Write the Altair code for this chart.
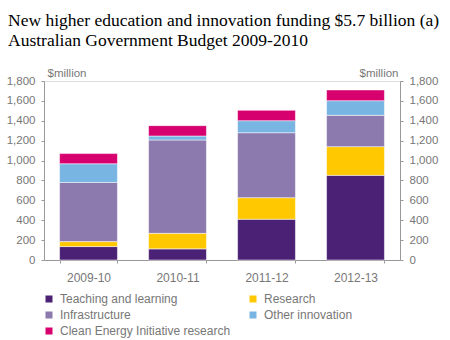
import altair as alt
import pandas as pd

years = ["2009-10", "2010-11", "2011-12", "2012-13"]
series = ["Teaching and learning", "Research", "Infrastructure",
          "Other innovation", "Clean Energy Initiative research"]
teaching = [135, 112, 410, 851]
research = [50, 156, 217, 289]
infrastructure = [595, 939, 653, 315]
other = [188, 40, 121, 147]
clean = [102, 104, 104, 108]
colors = ["#4B2175", "#FFC800", "#8C79AE", "#78B5E2", "#D6006F"]
y_ticks = [0, 200, 400, 600, 800, 1000, 1200, 1400, 1600, 1800]

rows = []
for i, s in enumerate(series):
    vals = [teaching, research, infrastructure, other, clean][i]
    for y, v in zip(years, vals):
        rows.append({"year": y, "series": s, "value": v, "idx": i})
df = pd.DataFrame(rows)

# legend fills column by column: order domain so rows read as in the reference
legend_order = [0, 2, 4, 1, 3]
domain = [series[i] for i in legend_order]
rng = [colors[i] for i in legend_order]

FONT = "Liberation Sans"
GRAY = "#777777"

x_enc = alt.X("year:N", sort=years, title=None,
              scale=alt.Scale(paddingInner=0.35, paddingOuter=0.175),
              axis=alt.Axis(labelAngle=0, labelFont=FONT, labelFontSize=12,
                            labelColor=GRAY, domainColor="#999999",
                            tickColor="#999999", tickSize=3, tickBand="extent",
                            labelPadding=9))
color_enc = alt.Color("series:N", sort=domain,
                      scale=alt.Scale(domain=domain, range=rng),
                      legend=alt.Legend(title=None, orient="none", legendX=-1, legendY=212,
                                        columns=2, columnPadding=16, rowPadding=4,
                                        symbolType="square", symbolSize=49,
                                        symbolStrokeWidth=0, labelOffset=5,
                                        labelFont=FONT, labelFontSize=12,
                                        labelLimit=300,
                                        labelColor=GRAY, padding=0))

def yaxis(orient, tx, align):
    return alt.Axis(orient=orient, values=y_ticks, format=",d", grid=False,
                    labelFont=FONT, labelFontSize=11.5, labelColor=GRAY,
                    domainColor="#999999", tickColor="#999999", tickSize=3,
                    labelPadding=6, title="$million", titleAngle=0,
                    titleFont=FONT, titleFontSize=11.5, titleColor=GRAY,
                    titleFontWeight="normal", titleX=tx, titleY=-5,
                    titleAlign=align, titleBaseline="alphabetic")

bars = alt.Chart(df).mark_bar(stroke="#ffffff", strokeWidth=0.5).encode(
    x=x_enc,
    y=alt.Y("value:Q", stack="zero", scale=alt.Scale(domain=[0, 1800], nice=False),
            axis=yaxis("left", 3, "left")),
    color=color_enc,
    order=alt.Order("idx:Q", sort="ascending"),
)
ghost = alt.Chart(df).mark_bar(opacity=0).encode(
    x=x_enc,
    y=alt.Y("value:Q", stack="zero", scale=alt.Scale(domain=[0, 1800], nice=False),
            axis=yaxis("right", -2, "right")),
    order=alt.Order("idx:Q", sort="ascending"),
)

chart = alt.layer(bars, ghost).resolve_scale(y="independent").properties(
    width=356, height=179,
    autosize=alt.AutoSizeParams(type="none"),
    padding={"left": 44, "top": 81, "right": 50, "bottom": 80},
    title=alt.TitleParams(
        ["New higher education and innovation funding $5.7 billion (a)",
         "Australian Government Budget 2009-2010"],
        anchor="start", frame="group", font="Liberation Serif", fontSize=17.5,
        fontWeight="normal", color="black", dx=-36, dy=-8, lineHeight=20, offset=10),
).configure_view(stroke=None).configure(background="white")

chart.save("out.html", embed_options={"renderer": "svg", "actions": False})
